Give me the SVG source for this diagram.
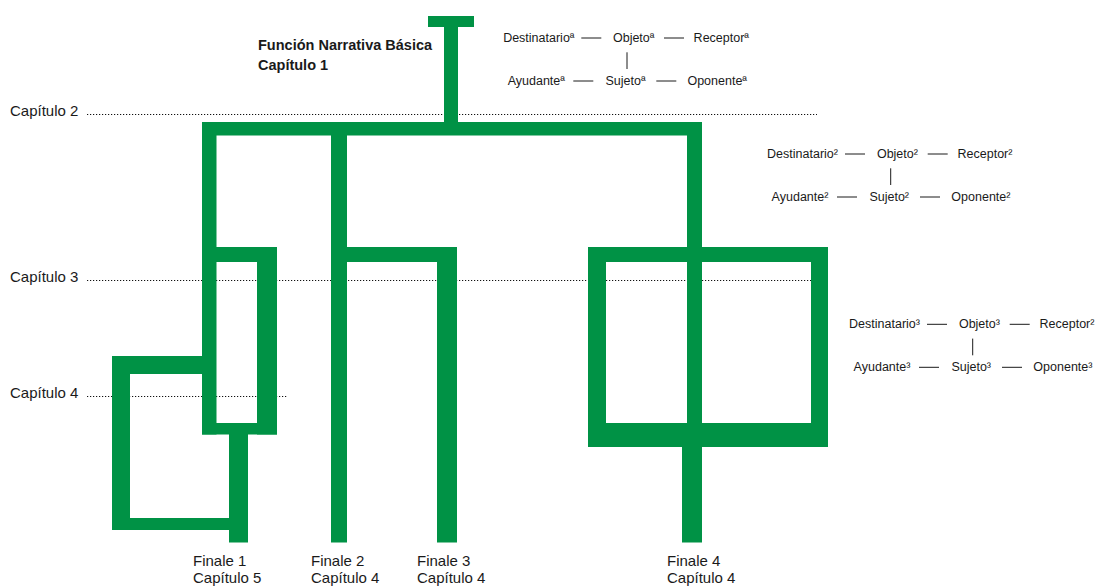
<svg xmlns="http://www.w3.org/2000/svg" width="1095" height="588" viewBox="0 0 1095 588">
  <style>
    .bar { fill: #009245; }
    .dot { stroke: #111; stroke-width: 1.1; stroke-dasharray: 1.2 1.8; fill: none; }
    .lbl { font-family: "Liberation Sans", Arial, sans-serif; font-size: 15px; fill: #1a1a1a; }
    .ttl { font-family: "Liberation Sans", Arial, sans-serif; font-size: 14.5px; font-weight: bold; fill: #1a1a1a; }
    .act { font-family: "Liberation Sans", Arial, sans-serif; font-size: 12.5px; fill: #1a1a1a; text-anchor: middle; }
    .lnk { stroke: #1a1a1a; stroke-width: 1; }
  </style>
  <defs>
    <!-- actantial model links, drawn relative to the vertical Objeto–Sujeto link -->
    <g id="actLinks">
      <line class="lnk" x1="-45.7" y1="-4" x2="-25.7" y2="-4"/>
      <line class="lnk" x1="37" y1="-4" x2="57" y2="-4"/>
      <line class="lnk" x1="0" y1="10.3" x2="0" y2="27"/>
      <line class="lnk" x1="-53.7" y1="39" x2="-33.7" y2="39"/>
      <line class="lnk" x1="29.3" y1="39" x2="49.3" y2="39"/>
    </g>
  </defs>
  <rect width="1095" height="588" fill="#fff"/>

  <!-- chapter guide lines -->
  <g id="chapters">
    <line class="dot" x1="87" y1="114.5" x2="817" y2="114.5"/>
    <line class="dot" x1="87" y1="280.5" x2="818" y2="280.5"/>
    <line class="dot" x1="87" y1="396.5" x2="287" y2="396.5"/>
    <text class="lbl" x="10" y="116" font-size="15.5">Capítulo 2</text>
    <text class="lbl" x="10" y="281.5" font-size="15.5">Capítulo 3</text>
    <text class="lbl" x="10" y="398" font-size="15.5">Capítulo 4</text>
  </g>

  <!-- narrative tree -->
  <g id="connectors">
    <!-- chapter 1 root -->
    <g id="root">
      <rect class="bar" x="428" y="16" width="46" height="11"/>
      <rect class="bar" x="444" y="16" width="14" height="108"/>
      <rect class="bar" x="202" y="122" width="500" height="13.5"/>
    </g>
    <!-- left branch: finale 1 -->
    <g id="branch-finale1">
      <rect class="bar" x="202" y="122" width="14.5" height="312.5"/>
      <rect class="bar" x="202" y="247" width="75" height="15"/>
      <rect class="bar" x="257" y="247" width="20" height="187.5"/>
      <rect class="bar" x="202" y="423" width="75" height="11.5"/>
      <rect class="bar" x="112" y="356" width="104" height="18"/>
      <rect class="bar" x="112" y="356" width="18" height="174"/>
      <rect class="bar" x="112" y="518" width="136" height="12"/>
      <rect class="bar" x="229" y="423" width="19" height="119.5"/>
    </g>
    <!-- middle branch: finales 2 and 3 -->
    <g id="branch-finale2-3">
      <rect class="bar" x="331" y="122" width="16" height="420.5"/>
      <rect class="bar" x="331" y="247" width="126" height="15"/>
      <rect class="bar" x="437" y="247" width="20" height="295.5"/>
    </g>
    <!-- right branch: finale 4 -->
    <g id="branch-finale4">
      <rect class="bar" x="687" y="122" width="15" height="325"/>
      <rect class="bar" x="588" y="247" width="240" height="15"/>
      <rect class="bar" x="588" y="247" width="18" height="200"/>
      <rect class="bar" x="811" y="247" width="17" height="200"/>
      <rect class="bar" x="588" y="423" width="240" height="24"/>
      <rect class="bar" x="682" y="440" width="20" height="102.5"/>
    </g>
  </g>

  <!-- title -->
  <g id="title">
    <text class="ttl" x="258" y="50">Función Narrativa Básica</text>
    <text class="ttl" x="258" y="70">Capítulo 1</text>
  </g>

  <!-- actantial model, chapter 1 -->
  <g id="actants-1" transform="translate(627,42)">
    <use href="#actLinks"/>
    <text class="act" x="-88.2" y="0">Destinatarioª</text>
    <text class="act" x="6.7" y="0">Objetoª</text>
    <text class="act" x="94.3" y="0">Receptorª</text>
    <text class="act" x="-90.7" y="43">Ayudanteª</text>
    <text class="act" x="-1.5" y="43">Sujetoª</text>
    <text class="act" x="90.2" y="43">Oponenteª</text>
  </g>

  <!-- actantial model, chapter 2 -->
  <g id="actants-2" transform="translate(890.7,158)">
    <use href="#actLinks"/>
    <text class="act" x="-88.2" y="0">Destinatario²</text>
    <text class="act" x="6.7" y="0">Objeto²</text>
    <text class="act" x="94.3" y="0">Receptor²</text>
    <text class="act" x="-90.7" y="43">Ayudante²</text>
    <text class="act" x="-1.5" y="43">Sujeto²</text>
    <text class="act" x="90.2" y="43">Oponente²</text>
  </g>

  <!-- actantial model, chapter 3 -->
  <g id="actants-3" transform="translate(972.7,328.3)">
    <use href="#actLinks"/>
    <text class="act" x="-88.2" y="0">Destinatario³</text>
    <text class="act" x="6.7" y="0">Objeto³</text>
    <text class="act" x="94.3" y="0">Receptor²</text>
    <text class="act" x="-90.7" y="43">Ayudante³</text>
    <text class="act" x="-1.5" y="43">Sujeto³</text>
    <text class="act" x="90.2" y="43">Oponente³</text>
  </g>

  <!-- endings -->
  <g id="finale-1">
    <text class="lbl" x="193" y="565.5">Finale 1</text>
    <text class="lbl" x="193" y="583">Capítulo 5</text>
  </g>
  <g id="finale-2">
    <text class="lbl" x="311" y="565.5">Finale 2</text>
    <text class="lbl" x="311" y="583">Capítulo 4</text>
  </g>
  <g id="finale-3">
    <text class="lbl" x="417" y="565.5">Finale 3</text>
    <text class="lbl" x="417" y="583">Capítulo 4</text>
  </g>
  <g id="finale-4">
    <text class="lbl" x="667" y="565.5">Finale 4</text>
    <text class="lbl" x="667" y="583">Capítulo 4</text>
  </g>
</svg>
